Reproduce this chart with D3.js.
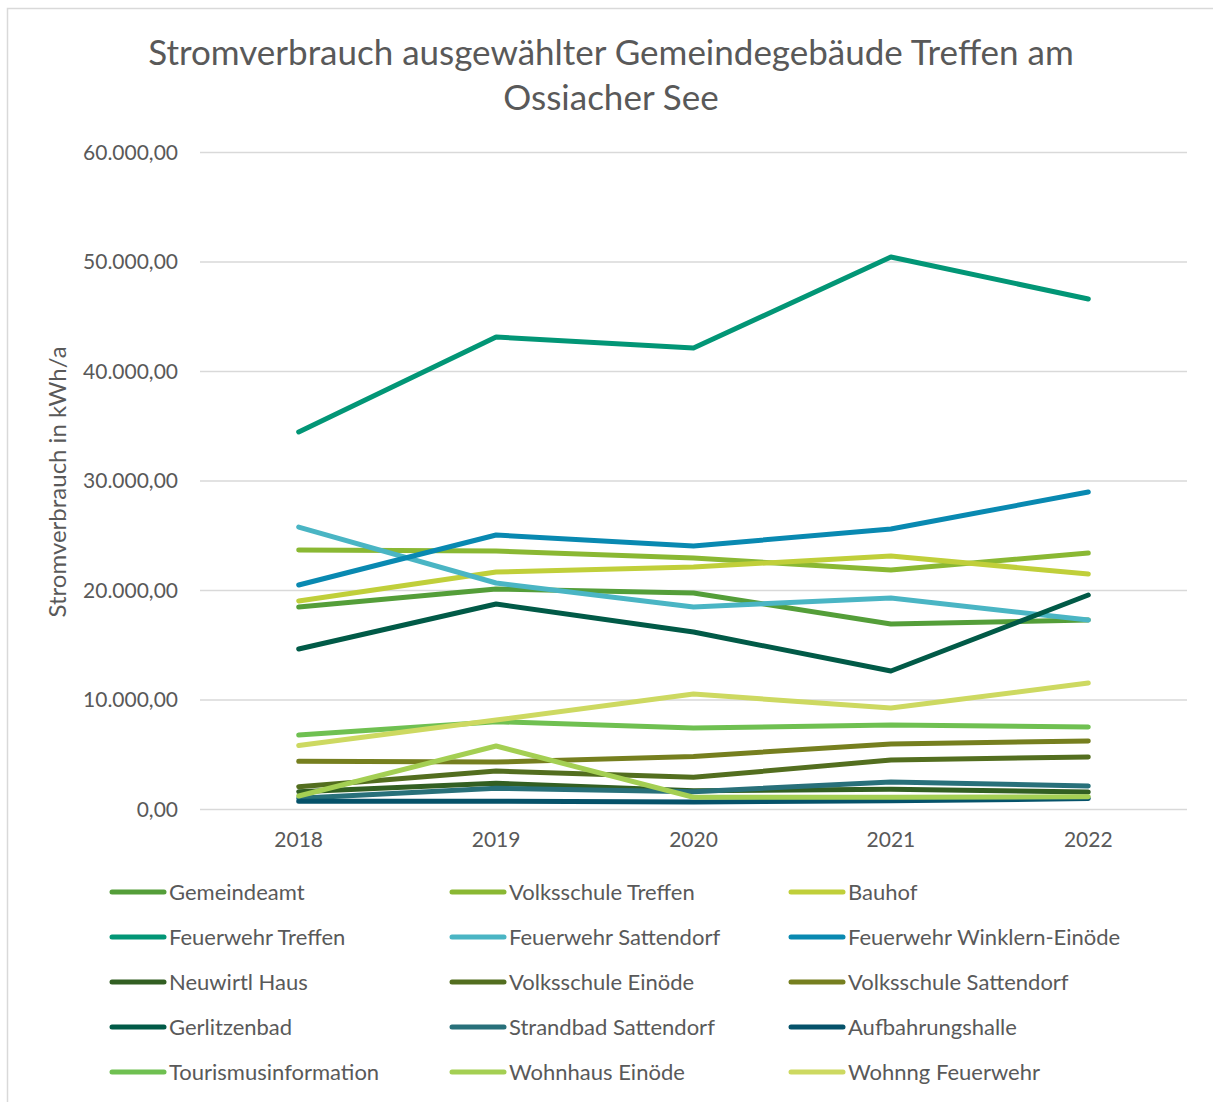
<!DOCTYPE html>
<html>
<head>
<meta charset="utf-8">
<script src="https://cdn.jsdelivr.net/npm/d3@7"></script>
<style>
  body { margin: 0; background: #fff; }
  svg { display: block; font-family: Lato, "Open Sans", sans-serif; }
</style>
</head>
<body>
<svg width="1213" height="1102"></svg>
<script>
// data
const years = ["2018", "2019", "2020", "2021", "2022"];
const names = [
  "Gemeindeamt", "Volksschule Treffen", "Bauhof",
  "Feuerwehr Treffen", "Feuerwehr Sattendorf", "Feuerwehr Winklern-Einöde",
  "Neuwirtl Haus", "Volksschule Einöde", "Volksschule Sattendorf",
  "Gerlitzenbad", "Strandbad Sattendorf", "Aufbahrungshalle",
  "Tourismusinformation", "Wohnhaus Einöde", "Wohnng Feuerwehr"
];
const gemeindeamt = [18450, 20090, 19730, 16900, 17260];
const volksschuleTreffen = [23650, 23560, 22920, 21830, 23380];
const bauhof = [19000, 21640, 22100, 23100, 21460];
const feuerwehrTreffen = [34430, 43100, 42100, 50410, 46580];
const feuerwehrSattendorf = [25750, 20640, 18450, 19270, 17260];
const feuerwehrWinklern = [20460, 25020, 24020, 25570, 28950];
const neuwirtlHaus = [1580, 2350, 1670, 1800, 1550];
const volksschuleEinoede = [2040, 3470, 2890, 4470, 4750];
const volksschuleSattendorf = [4350, 4290, 4800, 5940, 6210];
const gerlitzenbad = [14610, 18720, 16160, 12600, 19540];
const strandbadSattendorf = [980, 1890, 1580, 2470, 2100];
const aufbahrungshalle = [700, 700, 650, 750, 950];
const tourismusinformation = [6760, 7970, 7400, 7670, 7490];
const wohnhausEinoede = [1190, 5750, 1070, 1070, 1120];
const wohnngFeuerwehr = [5800, 8130, 10500, 9220, 11510];
const yTicks = [0, 10000, 20000, 30000, 40000, 50000, 60000];

const values = [
  gemeindeamt, volksschuleTreffen, bauhof,
  feuerwehrTreffen, feuerwehrSattendorf, feuerwehrWinklern,
  neuwirtlHaus, volksschuleEinoede, volksschuleSattendorf,
  gerlitzenbad, strandbadSattendorf, aufbahrungshalle,
  tourismusinformation, wohnhausEinoede, wohnngFeuerwehr
];
// office "Green" theme: accents, darker, lighter
const colors = [
  "#549E39", "#8AB833", "#C0CF3A", "#029676", "#4AB5C4", "#0989B1",
  "#325F22", "#536E1F", "#767F1F", "#015A47", "#28707A", "#05526A",
  "#6FC051", "#A4CF53", "#CDD961"
];

const textColor = "#595959";
const svg = d3.select("svg");

// chart frame (right and bottom edges fall outside the picture)
svg.append("rect")
  .attr("x", 7.5).attr("y", 8.5)
  .attr("width", 1300).attr("height", 1300)
  .attr("fill", "none").attr("stroke", "#d9d9d9").attr("stroke-width", 1.5);

// title
svg.append("text")
  .attr("text-anchor", "middle")
  .attr("fill", textColor)
  .style("font-size", "35px")
  .selectAll("tspan")
  .data(["Stromverbrauch ausgewählter Gemeindegebäude Treffen am", "Ossiacher See"])
  .enter().append("tspan")
  .attr("x", 611)
  .attr("y", (d, i) => 65 + i * 45)
  .text(d => d);

const plot = {left: 200, right: 1187, top: 152, bottom: 809};

const x = d3.scaleBand().domain(years).range([plot.left, plot.right]).padding(0);
const y = d3.scaleLinear().domain([0, 60000]).range([plot.bottom, plot.top]);

const fmt = d3.formatLocale({decimal: ",", thousands: ".", grouping: [3], currency: ["", "€"]}).format(",.2f");

// gridlines
svg.append("g")
  .attr("transform", "translate(" + plot.left + ",0)")
  .call(d3.axisLeft(y).tickValues(yTicks).tickSize(-(plot.right - plot.left)).tickFormat(""))
  .call(g => g.select(".domain").remove())
  .call(g => g.selectAll("line").attr("stroke", "#d9d9d9").attr("stroke-width", 1.5));

// y labels
svg.append("g")
  .selectAll("text")
  .data(yTicks)
  .enter().append("text")
  .attr("x", 178)
  .attr("y", d => y(d) + 7.5)
  .attr("text-anchor", "end")
  .attr("fill", textColor)
  .style("font-size", "21px")
  .text(d => fmt(d));

// x labels
svg.append("g")
  .selectAll("text")
  .data(years)
  .enter().append("text")
  .attr("x", d => x(d) + x.bandwidth() / 2)
  .attr("y", 847)
  .attr("text-anchor", "middle")
  .attr("fill", textColor)
  .style("font-size", "21px")
  .text(d => d);

// y axis title
svg.append("text")
  .attr("transform", "translate(66,482) rotate(-90)")
  .attr("text-anchor", "middle")
  .attr("fill", textColor)
  .style("font-size", "24px")
  .text("Stromverbrauch in kWh/a");

// lines
const line = d3.line()
  .x((d, i) => x(years[i]) + x.bandwidth() / 2)
  .y(d => y(d));

svg.append("g")
  .selectAll("path")
  .data(values)
  .enter().append("path")
  .attr("d", line)
  .attr("fill", "none")
  .attr("stroke", (d, i) => colors[i])
  .attr("stroke-width", 5)
  .attr("stroke-linecap", "round")
  .attr("stroke-linejoin", "round");

// legend
const colX = [110, 450, 789];
const legend = svg.append("g")
  .selectAll("g")
  .data(names)
  .enter().append("g")
  .attr("transform", (d, i) => "translate(" + colX[i % 3] + "," + (892 + Math.floor(i / 3) * 45) + ")");

legend.append("line")
  .attr("x1", 2).attr("x2", 54)
  .attr("stroke", (d, i) => colors[i])
  .attr("stroke-width", 5)
  .attr("stroke-linecap", "round");

legend.append("text")
  .attr("x", 59)
  .attr("y", 8)
  .attr("fill", textColor)
  .style("font-size", "22px")
  .text(d => d);
</script>
</body>
</html>
